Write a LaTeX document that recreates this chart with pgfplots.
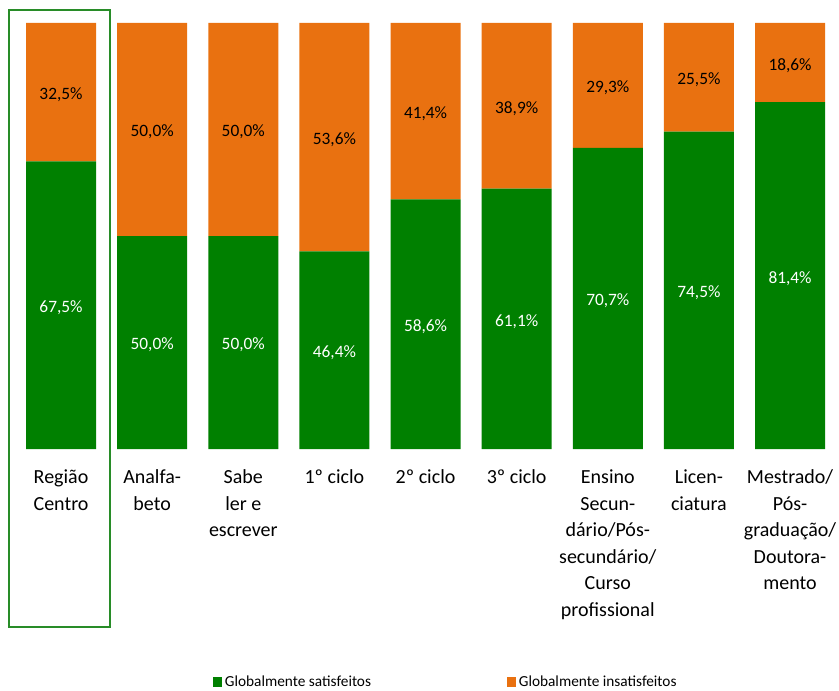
\documentclass[border=0pt]{standalone}
\usepackage{pgfplots}
\pgfplotsset{compat=1.18}
\usepackage{pgfplotstable}
\usepackage{fontspec}
\setmainfont{Carlito}
\definecolor{cgreen}{RGB}{0,128,0}
\definecolor{corange}{RGB}{233,113,16}
\definecolor{cframe}{RGB}{40,140,40}
\pgfplotstableread{
x sat ins
0 67.5 32.5
1 50.0 50.0
2 50.0 50.0
3 46.4 53.6
4 58.6 41.4
5 61.1 38.9
6 70.7 29.3
7 74.5 25.5
8 81.4 18.6
}\datatable
\pgfplotsset{
  base/.style={
    scale only axis,
    width=625.35pt, height=319.5pt,
    xmin=-0.65, xmax=8.5, ymin=0, ymax=100,
    at={(1.35pt,180.75pt)}, anchor=south west,
  },
  lbl/.style={
    only marks, mark=*, mark size=0pt, mark options={draw=none,fill=none},
    nodes near coords={\pgfmathprintnumber[fixed,fixed zerofill,precision=1,use comma,assume math mode=true]{\pgfplotspointmeta}\%},
    point meta=explicit,
    every node near coord/.append style={anchor=center, yshift=-2pt, font=\fontsize{13}{15}\selectfont},
  },
}
\begin{document}
\begin{tikzpicture}
\path[use as bounding box] (0,0) rectangle (629.25pt,517.5pt);
\begin{axis}[base,
  ybar stacked, bar width=52.5pt,
  xtick={0,...,8},
  xticklabels={{Região\\Centro},{Analfa-\\beto},{Sabe\\ler e\\escrever},{1º ciclo},{2º ciclo},{3º ciclo},{Ensino\\Secun-\\dário/Pós-\\secundário/\\Curso\\profissional},{Licen-\\ciatura},{Mestrado/\\Pós-\\graduação/\\Doutora-\\mento}},
  xticklabel style={align=center, font=\fontsize{15}{19.9}\selectfont, anchor=north, yshift=-15.5pt, inner sep=0pt},
  ytick=\empty,
  axis line style={draw=none},
  major tick length=0pt,
  legend columns=2,
  legend style={at={(0.533,-0.547)}, anchor=center, draw=none, fill=none,
    font=\fontsize{11.5}{13}\selectfont,
    /tikz/every even column/.append style={column sep=100pt}},
  legend image code/.code={\fill[#1] (0pt,-3.4pt) rectangle (6.8pt,3.4pt);},
]
\addplot[fill=cgreen, draw=none] table[x=x,y=sat]{\datatable};
\addlegendentry{Globalmente satisfeitos}
\addplot[fill=corange, draw=none] table[x=x,y=ins]{\datatable};
\addlegendentry{Globalmente insatisfeitos}
\end{axis}
\begin{axis}[base, hide axis]
\addplot[lbl, every node near coord/.append style={text=white}] table[x=x, y expr=\thisrow{sat}/2, meta=sat]{\datatable};
\addplot[lbl, every node near coord/.append style={text=black}] table[x=x, y expr=\thisrow{sat}+\thisrow{ins}/2, meta=ins]{\datatable};
\end{axis}
\draw[cframe, line width=1.3pt] (6.75pt,47.25pt) rectangle (82.5pt,510pt);
\end{tikzpicture}
\end{document}
